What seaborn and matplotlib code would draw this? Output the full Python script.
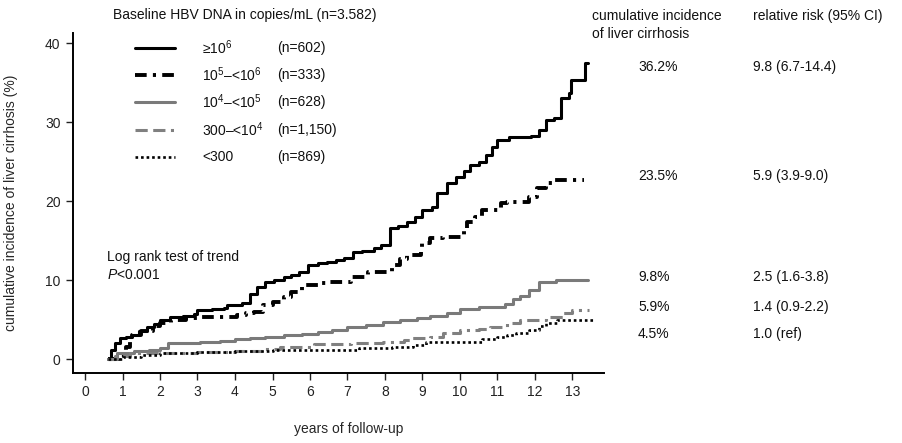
import matplotlib
matplotlib.use("Agg")
import matplotlib.pyplot as plt
from matplotlib.lines import Line2D
import seaborn as sns
import pandas as pd

# group labels, sizes and read-off Kaplan-Meier step points (years, %)
groups = ["≥$10^{6}$", "$10^{5}$–<$10^{6}$", "$10^{4}$–<$10^{5}$", "300–<$10^{4}$", "<300"]
group_n = ["(n=602)", "(n=333)", "(n=628)", "(n=1,150)", "(n=869)"]
cum_inc = ["36.2%", "23.5%", "9.8%", "5.9%", "4.5%"]
rel_risk = ["9.8 (6.7-14.4)", "5.9 (3.9-9.0)", "2.5 (1.6-3.8)", "1.4 (0.9-2.2)", "1.0 (ref)"]

t_hi = [0.6, 0.7, 0.8, 0.93, 1.1, 1.25, 1.45, 1.65, 1.85, 2.0, 2.27, 2.6, 2.9, 3.0, 3.4, 3.7, 3.8,
        4.0, 4.2, 4.4, 4.6, 4.8, 5.05, 5.3, 5.5, 5.7, 5.95, 6.2, 6.45, 6.7, 6.9, 7.15, 7.4, 7.7,
        7.9, 8.13, 8.35, 8.6, 8.8, 9.0, 9.25, 9.4, 9.65, 9.9, 10.1, 10.27, 10.5, 10.7, 10.85,
        11.0, 11.3, 11.9, 12.1, 12.3, 12.5, 12.7, 12.9, 12.95, 13.32, 13.42]
y_hi = [0.0, 1.2, 2.0, 2.6, 2.8, 3.0, 3.5, 4.0, 4.4, 4.9, 5.3, 5.5, 5.7, 6.2, 6.3, 6.4, 6.8,
        6.9, 7.1, 8.2, 9.1, 9.7, 10.0, 10.4, 10.6, 11.0, 11.9, 12.1, 12.3, 12.5, 12.8, 13.5, 13.7,
        14.0, 14.4, 16.6, 16.9, 17.3, 18.0, 18.9, 19.2, 21.0, 22.3, 23.0, 23.8, 24.6, 24.9, 25.8,
        26.8, 27.7, 28.1, 28.2, 29.0, 30.3, 30.5, 33.0, 33.7, 35.3, 37.5, 37.5]

t_mh = [0.6, 0.9, 1.1, 1.2, 1.25, 1.5, 1.8, 2.0, 2.3, 2.7, 3.0, 4.05, 4.3, 4.5, 4.75, 5.0, 5.3,
        5.5, 5.8, 6.2, 6.5, 7.1, 7.55, 8.2, 8.4, 8.6, 8.95, 9.0, 9.2, 9.55, 10.1, 10.2, 10.4,
        10.6, 11.1, 11.25, 11.85, 12.05, 12.3, 12.5, 13.3]
y_mh = [0.0, 0.5, 1.5, 2.5, 3.0, 3.6, 4.2, 4.6, 5.0, 5.2, 5.3, 5.6, 5.8, 5.9, 6.8, 7.2, 7.8,
        8.5, 9.4, 9.6, 9.8, 10.4, 11.0, 11.9, 12.6, 13.2, 13.8, 14.7, 15.3, 15.4, 16.3, 17.3, 18.0,
        18.9, 19.7, 19.9, 20.5, 21.6, 22.3, 22.7, 22.7]

t_md = [0.6, 0.85, 1.3, 1.7, 2.0, 2.2, 3.07, 3.6, 4.0, 4.4, 4.8, 5.3, 5.8, 6.2, 6.6, 7.0, 7.5,
        7.95, 8.4, 8.85, 9.2, 9.65, 10.0, 10.5, 11.2, 11.4, 11.6, 11.85, 12.1, 12.55, 13.4]
y_md = [0.0, 0.8, 1.0, 1.2, 1.4, 2.0, 2.1, 2.3, 2.5, 2.6, 2.8, 3.0, 3.2, 3.4, 3.7, 4.0, 4.3,
        4.7, 4.9, 5.2, 5.4, 5.8, 6.3, 6.6, 7.0, 7.6, 8.0, 8.7, 9.7, 10.0, 10.0]

t_lo = [0.6, 0.8, 1.2, 2.0, 3.0, 4.0, 4.8, 5.2, 6.1, 7.1, 7.95, 8.5, 8.7, 9.2, 9.55, 10.0, 10.5,
        10.8, 11.25, 11.6, 12.05, 12.3, 12.75, 13.0, 13.45]
y_lo = [0.0, 0.4, 0.7, 0.8, 0.9, 1.0, 1.3, 1.5, 1.9, 2.0, 2.2, 2.4, 2.6, 2.8, 3.3, 3.7, 3.8,
        4.1, 4.5, 4.9, 5.0, 5.3, 5.8, 6.2, 6.2]

t_vl = [0.6, 1.0, 1.5, 2.0, 3.0, 4.0, 5.0, 7.3, 8.2, 8.75, 9.1, 10.6, 11.0, 11.25, 11.5, 11.85,
        12.1, 12.3, 12.6, 13.55]
y_vl = [0.0, 0.3, 0.5, 0.7, 0.9, 1.0, 1.1, 1.4, 1.5, 1.8, 2.2, 2.5, 2.8, 3.0, 3.3, 3.7,
        4.2, 4.5, 5.0, 5.0]

curves = pd.concat([
    pd.DataFrame({"years": t, "incidence": y, "group": g})
    for t, y, g in zip([t_hi, t_mh, t_md, t_lo, t_vl], [y_hi, y_mh, y_md, y_lo, y_vl], groups)
])

styles = {
    groups[0]: dict(color="black", lw=2.2, ls="-"),
    groups[1]: dict(color="black", lw=2.8, ls=(0, (3, 1.6, 0.8, 1.6))),
    groups[2]: dict(color="#7a7a7a", lw=2.2, ls="-"),
    groups[3]: dict(color="#808080", lw=2.2, ls=(0, (4, 1.8, 4, 1.8, 1, 1.8))),
    groups[4]: dict(color="black", lw=1.9, ls=(0, (1, 1.1))),
}

sns.set_theme(style="ticks")
plt.rcParams["font.family"] = ["Liberation Sans", "DejaVu Sans"]
plt.rcParams["mathtext.fontset"] = "custom"
plt.rcParams["mathtext.rm"] = "Liberation Sans"
plt.rcParams["mathtext.it"] = "Liberation Sans:italic"

W, H = 903, 443
fig = plt.figure(figsize=(W / 100, H / 100), dpi=100)
ax = fig.add_axes([73 / W, 1 - 373 / H, (604 - 73) / W, (373 - 33) / H])

for g in groups:
    st = styles[g]
    sns.lineplot(data=curves[curves["group"] == g], x="years", y="incidence", ax=ax,
                 estimator=None, sort=False, drawstyle="steps-post",
                 color=st["color"], linewidth=st["lw"], linestyle=st["ls"])

ax.set_xlim(-0.32, 13.84)
ax.set_ylim(-1.77, 41.27)
ax.set_xticks(range(0, 14))
ax.set_yticks([0, 10, 20, 30, 40])
ax.tick_params(labelsize=10, length=5, width=1, colors="#222222", pad=4)
for s in ["left", "bottom"]:
    ax.spines[s].set_linewidth(1.4)
    ax.spines[s].set_color("black")
sns.despine(ax=ax)

ax.set_ylabel("cumulative incidence of liver cirrhosis (%)", fontsize=10, labelpad=19)
ax.set_xlabel("years of follow-up", fontsize=10)
ax.xaxis.set_label_coords((349 - 73) / 531, -0.145)

def ftext(x, y, s, **kw):
    fig.text(x / W, 1 - y / H, s, va="center", fontsize=10, color="#111111", **kw)

ftext(113, 15, "Baseline HBV DNA in copies/mL (n=3.582)")
rows = [48, 75, 102, 130, 157]
for g, n, yy in zip(groups, group_n, rows):
    st = styles[g]
    fig.add_artist(Line2D([135 / W, 175 / W], [1 - yy / H, 1 - yy / H], transform=fig.transFigure,
                          color=st["color"], lw=st["lw"], ls=st["ls"]))
    ftext(202, yy, g)
    ftext(277, yy, n)

ftext(107, 257, "Log rank test of trend")
ftext(107, 275, "$\\it{P}$<0.001")

ftext(592, 16, "cumulative incidence")
ftext(592, 34, "of liver cirrhosis")
ftext(753, 16, "relative risk (95% CI)")
for ci, rr, yy in zip(cum_inc, rel_risk, [67, 176, 277, 307, 334]):
    ftext(638, yy, ci)
    ftext(753, yy, rr)

fig.savefig("out.png", dpi=100)
